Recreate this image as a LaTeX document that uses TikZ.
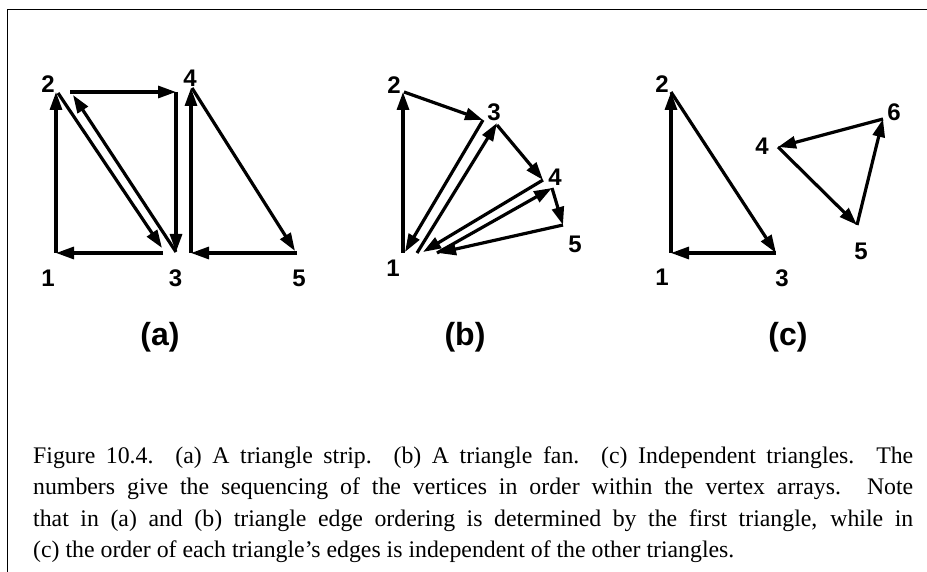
\documentclass[tikz,border=0pt]{standalone}
\usepackage{fontspec}
\setmainfont{Liberation Serif}
\newfontfamily\labfont{Liberation Sans}
\newfontfamily\capfont{Liberation Serif}
\usetikzlibrary{arrows.meta}
\tikzset{
  edge/.style={line width=3.2pt, -{Triangle[length=18pt,width=12pt]}},
  num/.style={font=\labfont\bfseries\fontsize{24}{24}\selectfont, inner sep=0pt},
  sub/.style={font=\labfont\bfseries\fontsize{32}{32}\selectfont, inner sep=0pt},
  capline/.style={font=\capfont\fontsize{23.8}{28}\selectfont, inner sep=0pt, anchor=base west},
  frame/.style={line width=1.5pt},
}
\begin{document}
\begin{tikzpicture}[x=1pt,y=-1pt]
\useasboundingbox (0,0) rectangle (927,572);
% frame
\coordinate (fbl) at (7.5,572);
\coordinate (ftl) at (7.5,9.5);
\coordinate (ftr) at (927,9.5);
\draw[frame] (fbl) -- (ftl) -- (ftr);

% ---------- (a) triangle strip ----------
\coordinate (a1) at (56,253);
\coordinate (a2) at (56,92);
\coordinate (a2s) at (58,93);
\coordinate (a3e) at (162,248);
\coordinate (a3s) at (163,253);
\coordinate (a3) at (176,252);
\coordinate (a2e) at (73,95);
\coordinate (a2f) at (70,92);
\coordinate (a4) at (176,92);
\coordinate (a3g) at (191,253);
\coordinate (a4b) at (191,88);
\coordinate (a4c) at (192,88);
\coordinate (a5) at (295,251);
\coordinate (a5s) at (297,253);
\draw[edge] (a1) -- (a2);
\draw[edge] (a2s) -- (a3e);
\draw[edge] (a3s) -- (a1);
\draw[edge] (a3) -- (a2e);
\draw[edge] (a2f) -- (a4);
\draw[edge] (a4) -- (a3);
\draw[edge] (a3g) -- (a4b);
\draw[edge] (a4c) -- (a5);
\draw[edge] (a5s) -- (a3g);
\node[num] (la1) at (48,278) {1};
\node[num] (la2) at (48,84) {2};
\node[num] (la3) at (175.5,278) {3};
\node[num] (la4) at (190,78) {4};
\node[num] (la5) at (299,278) {5};
\node[sub] (suba) at (160,337) {(a)};

% ---------- (b) triangle fan ----------
\coordinate (b1) at (403,253);
\coordinate (b2) at (403,92);
\coordinate (b2s) at (404,92);
\coordinate (b3) at (483,120);
\coordinate (b1e) at (405,252);
\coordinate (b1f) at (417,253);
\coordinate (b3b) at (497,123);
\coordinate (b3c) at (497,125);
\coordinate (b4) at (543,180);
\coordinate (b1g) at (423,252);
\coordinate (b1h) at (437,253);
\coordinate (b4b) at (552,188);
\coordinate (b5) at (563,225);
\coordinate (b1i) at (438,253);
\draw[edge] (b1) -- (b2);
\draw[edge] (b2s) -- (b3);
\draw[edge] (b3) -- (b1e);
\draw[edge] (b1f) -- (b3b);
\draw[edge] (b3c) -- (b4);
\draw[edge] (b4) -- (b1g);
\draw[edge] (b1h) -- (b4b);
\draw[edge] (b4b) -- (b5);
\draw[edge] (b5) -- (b1i);
\node[num] (lb1) at (393,268) {1};
\node[num] (lb2) at (394,85) {2};
\node[num] (lb3) at (494,112) {3};
\node[num] (lb4) at (555,177) {4};
\node[num] (lb5) at (575,244) {5};
\node[sub] (subb) at (465,337) {(b)};

% ---------- (c) independent triangles ----------
\coordinate (c1) at (671,253);
\coordinate (c2) at (671,92);
\coordinate (c3) at (776,253);
\coordinate (c4) at (778,147);
\coordinate (c5) at (857,225);
\coordinate (c6) at (883,119);
\draw[edge] (c1) -- (c2);
\draw[edge] (c2) -- (c3);
\draw[edge] (c3) -- (c1);
\draw[edge] (c4) -- (c5);
\draw[edge] (c5) -- (c6);
\draw[edge] (c6) -- (c4);
\node[num] (lc1) at (662,277) {1};
\node[num] (lc2) at (662,84) {2};
\node[num] (lc3) at (782,278) {3};
\node[num] (lc4) at (762,146) {4};
\node[num] (lc5) at (861,251) {5};
\node[num] (lc6) at (894,112) {6};
\node[sub] (subc) at (788,337) {(c)};

% ---------- caption ----------
\node[capline] (cap1) at (33,463) {\makebox[880pt][s]{Figure 10.4. (a) A triangle strip. (b) A triangle fan. (c) Independent triangles. The}};
\node[capline] (cap2) at (33,494.5) {\makebox[880pt][s]{numbers give the sequencing of the vertices in order within the vertex arrays. Note}};
\node[capline] (cap3) at (33,526) {\makebox[880pt][s]{that in (a) and (b) triangle edge ordering is determined by the first triangle, while in}};
\node[capline] (cap4) at (33,557.5) {(c) the order of each triangle’s edges is independent of the other triangles.};
\end{tikzpicture}
\end{document}
